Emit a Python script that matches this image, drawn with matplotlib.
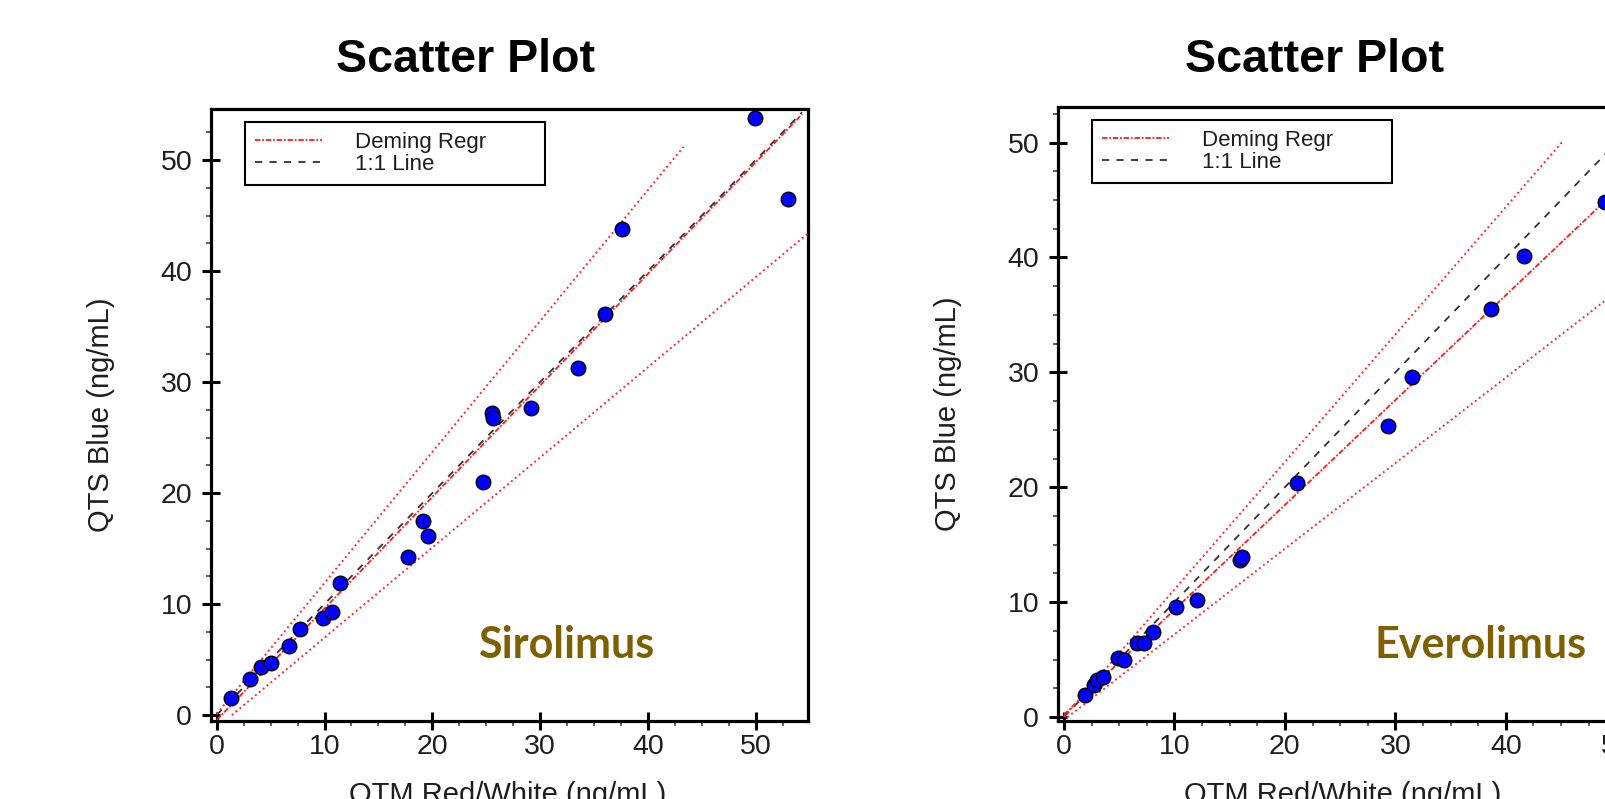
"""Two method-comparison scatter plots (QTS Blue vs QTM Red/White) with Deming fit."""

import matplotlib

matplotlib.use("Agg")
import matplotlib.pyplot as plt
import numpy as np
from matplotlib.ticker import MultipleLocator

plt.rcParams["font.family"] = ["Liberation Sans", "DejaVu Sans"]

# --- Sirolimus: QTM Red/White (x) vs QTS Blue (y), ng/mL ---
SIRO_X = [1.3, 3.1, 4.1, 5.0, 6.7, 7.7, 9.9, 10.7, 11.4, 17.7, 19.1, 19.6,
          24.7, 25.5, 25.6, 29.2, 33.5, 36.0, 37.6, 49.9, 53.0]
SIRO_Y = [1.5, 3.2, 4.3, 4.7, 6.2, 7.75, 8.7, 9.3, 11.9, 14.2, 17.45, 16.1,
          21.0, 27.2, 26.8, 27.7, 31.3, 36.1, 43.8, 53.8, 46.5]
# intercept, slope, x start, x end
SIRO_DEMING = (-0.45, 1.005, 0.0, 54.3)
SIRO_UPPER = (0.1, 1.18, 0.0, 43.3)
SIRO_LOWER = (-1.15, 0.812, 1.4, 54.9)
SIRO_IDENTITY = (0.0, 1.0, 0.0, 54.3)

# --- Everolimus ---
EVERO_X = [1.9, 2.7, 3.0, 3.5, 4.9, 5.4, 6.6, 7.2, 8.1, 10.1, 12.0, 15.9,
           16.1, 21.1, 29.3, 31.5, 38.7, 41.6, 49.0]
EVERO_Y = [1.9, 2.8, 3.2, 3.5, 5.1, 5.0, 6.4, 6.4, 7.4, 9.6, 10.2, 13.7,
           13.9, 20.4, 25.3, 29.6, 35.5, 40.1, 44.8]
EVERO_DEMING = (0.2, 0.913, 0.0, 53.0)
EVERO_UPPER = (0.0, 1.11, 0.0, 45.1)
EVERO_LOWER = (-0.25, 0.745, 0.3, 53.5)
EVERO_IDENTITY = (0.0, 1.0, 0.0, 53.0)

TICKS = [0, 10, 20, 30, 40, 50]
LEGEND_LABELS = ["Deming Regr", "1:1 Line"]
TEXT = "#1e1e1e"
DRUG_COLOR = "#7f6000"

W, H = 1606, 799


def fit_line(params):
    a, b, x0, x1 = params
    xs = np.array([x0, x1])
    return xs, a + b * xs


def draw_panel(fig, rect, xs, ys, deming, upper, lower, identity,
               xlim, ylim, drug, drug_pos, xlabel_x):
    ax = fig.add_axes(rect)
    ax.set_xlim(*xlim)
    ax.set_ylim(*ylim)

    lx, ly = fit_line(identity)
    (l_id,) = ax.plot(lx, ly, color="#333333", lw=1.3, ls=(0, (4, 4)), zorder=2)
    dx, dy = fit_line(deming)
    (l_dem,) = ax.plot(dx, dy, color="#ff1a1a", lw=1.3, ls=(0, (3, 1, 1, 1)), zorder=3)
    for params in (upper, lower):
        cx, cy = fit_line(params)
        ax.plot(cx, cy, color="#ff2a2a", lw=1.4, ls=(0, (1, 1.6)), zorder=3)

    ax.scatter(xs, ys, s=110, color="#0000ff", edgecolor="black", linewidth=1.0, zorder=4)

    for side in ("left", "right", "top", "bottom"):
        ax.spines[side].set_linewidth(2.3)
    ax.set_xticks(TICKS)
    ax.set_yticks(TICKS)
    ax.xaxis.set_minor_locator(MultipleLocator(2.5))
    ax.yaxis.set_minor_locator(MultipleLocator(2.5))
    ax.tick_params(which="major", direction="inout", length=13, width=2.2,
                   labelsize=20.5, labelcolor=TEXT)
    ax.tick_params(which="minor", direction="out", length=3.5, width=1.2, color="#444444")
    ax.tick_params(axis="y", which="major", pad=7)
    ax.tick_params(axis="x", which="major", pad=3)
    ax.tick_params(top=False, right=False, which="both")

    ax.set_ylabel("QTS Blue (ng/mL)", fontsize=21, color=TEXT, va="center")
    ax.yaxis.set_label_coords(-0.184, 0.5)
    ax.set_xlabel("QTM Red/White (ng/mL)", fontsize=21, color=TEXT, va="top")
    ax.xaxis.set_label_coords(xlabel_x, -0.098)

    leg = ax.legend([l_dem, l_id], LEGEND_LABELS, loc="upper left",
                    bbox_to_anchor=(0.057, 0.979, 0.503, 0.0), mode="expand",
                    borderaxespad=0, fontsize=16, handlelength=3.0,
                    handletextpad=1.5, labelspacing=0.05, borderpad=0.45,
                    fancybox=False, framealpha=1, edgecolor="black")
    leg.get_frame().set_linewidth(1.5)
    for t in leg.get_texts():
        t.set_color(TEXT)

    ax.text(drug_pos[0], drug_pos[1], drug, transform=ax.transAxes,
            ha="center", va="center", fontsize=31, fontweight="bold",
            color=DRUG_COLOR, family=["Lato", "DejaVu Sans"])
    return ax


def main() -> None:
    fig = plt.figure(figsize=(W / 100, H / 100), dpi=100)
    fig.patch.set_facecolor("white")

    draw_panel(fig, [211 / W, 1 - 721 / H, 597 / W, 612 / H],
               SIRO_X, SIRO_Y, SIRO_DEMING, SIRO_UPPER, SIRO_LOWER, SIRO_IDENTITY,
               (-0.53, 54.85), (-0.54, 54.6), "Sirolimus", (0.595, 0.124), 0.497)
    draw_panel(fig, [1058 / W, 1 - 721 / H, 597 / W, 614 / H],
               EVERO_X, EVERO_Y, EVERO_DEMING, EVERO_UPPER, EVERO_LOWER, EVERO_IDENTITY,
               (-0.54, 53.5), (-0.35, 53.1), "Everolimus", (0.707, 0.124), 0.477)

    for cx in (466, 1315):
        fig.text(cx / W, 1 - 60 / H, "Scatter Plot", ha="center", va="center",
                 fontsize=33.5, fontweight="bold", color="black")

    fig.savefig("out.png", dpi=100, facecolor="white")
    plt.close(fig)


if __name__ == "__main__":
    main()
